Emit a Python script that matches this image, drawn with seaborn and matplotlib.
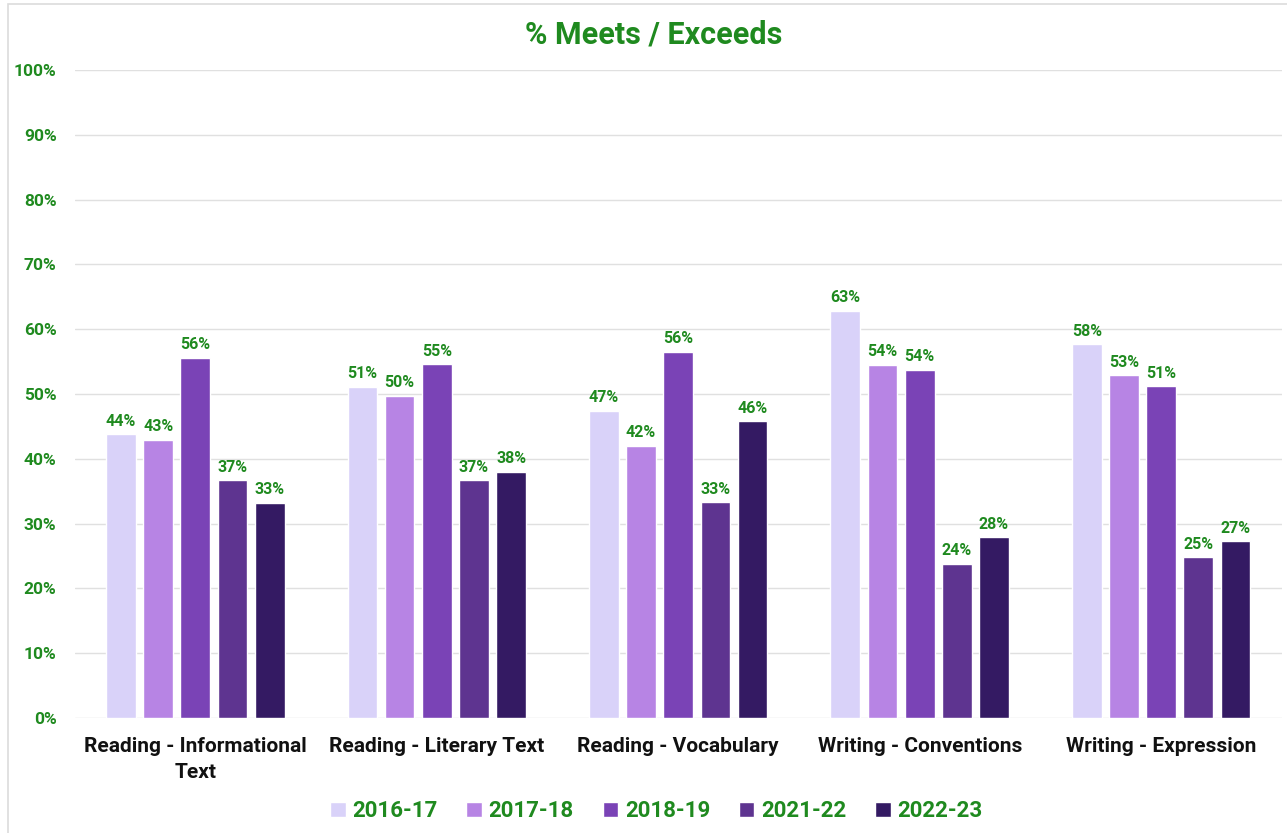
import seaborn as sns
import matplotlib.pyplot as plt
import pandas as pd
from matplotlib.patches import Rectangle
from matplotlib.ticker import PercentFormatter

# values (percent meets / exceeds)
categories = ['Reading - Informational\nText', 'Reading - Literary Text',
              'Reading - Vocabulary', 'Writing - Conventions', 'Writing - Expression']
years = ['2016-17', '2017-18', '2018-19', '2021-22', '2022-23']
y2016 = [43.8, 51.1, 47.4, 62.8, 57.7]
y2017 = [42.9, 49.7, 42.0, 54.5, 52.9]
y2018 = [55.6, 54.6, 56.5, 53.7, 51.2]
y2021 = [36.7, 36.7, 33.3, 23.8, 24.8]
y2022 = [33.2, 38.0, 45.8, 27.9, 27.3]
colors = ['#d9d2f9', '#b784e4', '#7a43b6', '#5e3490', '#341a63']

green = '#1f8a1f'

rows = []
for yr, vals in zip(years, [y2016, y2017, y2018, y2021, y2022]):
    for cat, v in zip(categories, vals):
        rows.append({'category': cat, 'year': yr, 'pct': v})
df = pd.DataFrame(rows)

sns.set_style('white')
plt.rcParams['font.family'] = ['Roboto', 'DejaVu Sans']
plt.rcParams['font.weight'] = 'bold'

fig = plt.figure(figsize=(12.87, 8.33), dpi=100)
ax = fig.add_axes([0.058, 0.138, 0.938, 0.778])

sns.barplot(data=df, x='category', y='pct', hue='year', palette=colors,
            saturation=1, width=0.77, gap=0.2, ax=ax, legend=True, zorder=3)

for cont in ax.containers:
    ax.bar_label(cont, labels=[f'{round(b.get_height()):.0f}%' for b in cont],
                 padding=4, color=green, fontsize=11.5, fontweight='bold')

ax.set_ylim(0, 100)
ax.set_yticks(range(0, 101, 10))
ax.yaxis.set_major_formatter(PercentFormatter(decimals=0))
ax.grid(axis='y', color='#e0e0e0', linewidth=1, zorder=0)
ax.set_axisbelow(True)
for s in ax.spines.values():
    s.set_visible(False)
ax.tick_params(axis='y', length=0, pad=13, labelcolor=green, labelsize=12.5)
ax.tick_params(axis='x', length=0, pad=14, labelcolor='#111111', labelsize=15)
for lab in ax.get_yticklabels():
    lab.set_fontweight('bold')
for lab in ax.get_xticklabels():
    lab.set_fontweight('bold')
    lab.set_linespacing(1.45)
ax.set_xlabel('')
ax.set_ylabel('')
ax.set_xlim(-0.5, 4.5)

handles, labels = ax.get_legend_handles_labels()
ax.get_legend().remove()
leg = fig.legend(handles, labels, loc='center', bbox_to_anchor=(0.51, 0.026),
                 ncol=5, frameon=False, fontsize=16, handlelength=0.7,
                 handleheight=0.7, handletextpad=0.3, columnspacing=1.3)
for t in leg.get_texts():
    t.set_color(green)
    t.set_fontweight('bold')

fig.suptitle('% Meets / Exceeds', x=0.508, y=0.959, color=green,
             fontsize=22, fontweight='bold', va='center')

fig.patches.append(Rectangle((0.006, -0.01), 1.1, 1.005, transform=fig.transFigure,
                             fill=False, edgecolor='#dcdcdc', linewidth=1.2))

plt.savefig('out.png', dpi=100)
